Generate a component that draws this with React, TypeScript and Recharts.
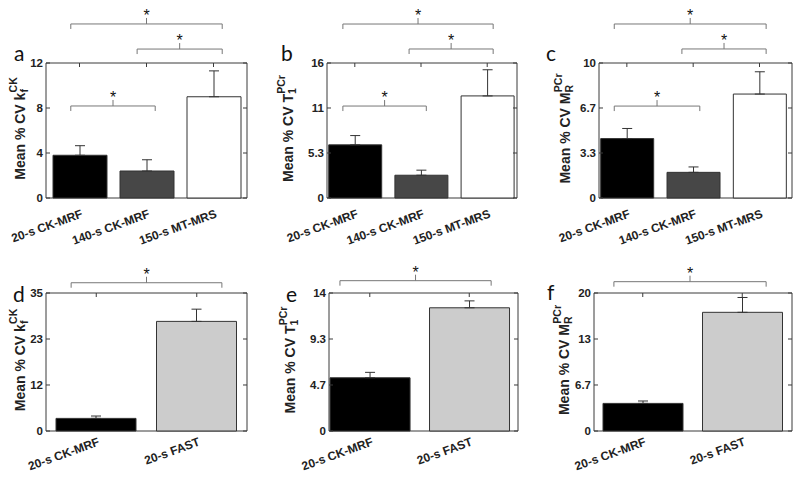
import React from "react";
import { BarChart, Bar, XAxis, YAxis, ErrorBar, Cell, ReferenceLine, ReferenceArea } from "recharts";

// categories
const methodLabels = ["20-s CK-MRF", "140-s CK-MRF", "150-s MT-MRS"];
const fastLabels = ["20-s CK-MRF", "20-s FAST"];

// mean % CV per method (top row)
const kfMeans = [3.8, 2.4, 9.0];
const kfErrs = [0.85, 1.0, 2.3];
const t1Means = [6.3, 2.7, 12.1];
const t1Errs = [1.1, 0.6, 3.1];
const mrMeans = [4.4, 1.9, 7.7];
const mrErrs = [0.75, 0.4, 1.65];

// CK-MRF vs FAST (bottom row)
const kfFastMeans = [3.2, 27.8];
const kfFastErrs = [0.6, 3.1];
const t1FastMeans = [5.4, 12.5];
const t1FastErrs = [0.55, 0.7];
const mrFastMeans = [4.0, 17.2];
const mrFastErrs = [0.35, 2.15];

// y ticks + labels
const kfTicks = [0, 4, 8, 12];
const kfTickLabels = ["0", "4", "8", "12"];
const t1Ticks = [0, 5.333, 10.667, 16];
const t1TickLabels = ["0", "5.3", "11", "16"];
const mrTicks = [0, 3.333, 6.667, 10];
const mrTickLabels = ["0", "3.3", "6.7", "10"];
const kfFastTicks = [0, 11.667, 23.333, 35];
const kfFastTickLabels = ["0", "12", "23", "35"];
const t1FastTicks = [0, 4.667, 9.333, 14];
const t1FastTickLabels = ["0", "4.7", "9.3", "14"];
const mrFastTicks = [0, 6.667, 13.333, 20];
const mrFastTickLabels = ["0", "6.7", "13", "20"];

// significance brackets (x from/to, height in data units)
const kfSig = [
  { from: 0.87, to: 3.13, at: 15.47 },
  { from: 1.86, to: 3.13, at: 13.24 },
  { from: 0.87, to: 2.13, at: 8.18 },
];
const t1Sig = [
  { from: 0.82, to: 3.09, at: 20.62 },
  { from: 1.82, to: 3.09, at: 17.66 },
  { from: 0.82, to: 2.08, at: 10.9 },
];
const mrSig = [
  { from: 0.81, to: 3.1, at: 12.89 },
  { from: 1.83, to: 3.1, at: 11.04 },
  { from: 0.81, to: 2.1, at: 6.81 },
];
const kfFastSig = [{ from: 0.75, to: 2.25, at: 37.6 }];
const t1FastSig = [{ from: 0.7, to: 2.22, at: 15.25 }];
const mrFastSig = [{ from: 0.71, to: 2.24, at: 21.64 }];

const W = 800;
const H = 483;
const AXW = 30; // y axis width
const AXH = 30; // x axis height
const FONT = "Liberation Sans, Arial, sans-serif";
const AXIS = "#3a3a3a";
const topFills = ["#000000", "#474747", "#ffffff"];
const bottomFills = ["#000000", "#cccccc"];

const panels = [
  { letter: "a", lx: 14, ly: 61, labels: methodLabels, means: kfMeans, errs: kfErrs, fills: topFills, ticks: kfTicks, tickLabels: kfTickLabels, sig: kfSig, box: { left: 46, right: 247, top: 63, bottom: 198 }, xDomain: [0.5, 3.5], ylx: 25, base: "k", sub: "f", subW: 3.3, sup: "CK", drop: 19 },
  { letter: "b", lx: 281, ly: 61, labels: methodLabels, means: t1Means, errs: t1Errs, fills: topFills, ticks: t1Ticks, tickLabels: t1TickLabels, sig: t1Sig, box: { left: 327, right: 517, top: 63, bottom: 198 }, xDomain: [0.58, 3.45], ylx: 293, base: "T", sub: "1", subW: 5.6, sup: "PCr", drop: 19 },
  { letter: "c", lx: 546, ly: 61, labels: methodLabels, means: mrMeans, errs: mrErrs, fills: topFills, ticks: mrTicks, tickLabels: mrTickLabels, sig: mrSig, box: { left: 599, right: 792, top: 63, bottom: 198 }, xDomain: [0.58, 3.49], ylx: 570, base: "M", sub: "R", subW: 7.2, sup: "PCr", drop: 19 },
  { letter: "d", lx: 13, ly: 302, labels: fastLabels, means: kfFastMeans, errs: kfFastErrs, fills: bottomFills, ticks: kfFastTicks, tickLabels: kfFastTickLabels, sig: kfFastSig, box: { left: 46, right: 247, top: 293, bottom: 431 }, xDomain: [0.5, 2.5], ylx: 25, base: "k", sub: "f", subW: 3.3, sup: "CK", drop: 14 },
  { letter: "e", lx: 286, ly: 302, labels: fastLabels, means: t1FastMeans, errs: t1FastErrs, fills: bottomFills, ticks: t1FastTicks, tickLabels: t1FastTickLabels, sig: t1FastSig, box: { left: 329, right: 518, top: 293, bottom: 431 }, xDomain: [0.59, 2.49], ylx: 295, base: "T", sub: "1", subW: 5.6, sup: "PCr", drop: 14 },
  { letter: "f", lx: 547, ly: 300, labels: fastLabels, means: mrFastMeans, errs: mrFastErrs, fills: bottomFills, ticks: mrFastTicks, tickLabels: mrFastTickLabels, sig: mrFastSig, box: { left: 594, right: 792, top: 293, bottom: 431 }, xDomain: [0.51, 2.5], ylx: 569, base: "M", sub: "R", subW: 7.2, sup: "PCr", drop: 14 },
];

const bracketShape = (p: any) => {
  const x1 = Math.min(p.x1, p.x2);
  const x2 = Math.max(p.x1, p.x2);
  const y = p.y1;
  const xm = (x1 + x2) / 2;
  return (
    <g>
      <path d={`M${x1},${y + 5}V${y}H${x2}V${y + 5}M${xm},${y}V${y - 6}`} fill="none" stroke="#777" strokeWidth={1} />
      <text x={xm} y={y - 3} textAnchor="middle" fontSize={16} fontFamily={FONT} fill="#111">*</text>
    </g>
  );
};

function Panel({ spec }: { spec: any }) {
  const { box, xDomain, ticks, tickLabels, labels } = spec;
  const data = spec.means.map((v: number, i: number) => ({ x: i + 1, value: v, err: [0, spec.errs[i]] }));
  const plotW = box.right - box.left;
  const barSize = Math.round((0.8 * plotW) / (xDomain[1] - xDomain[0]));
  const yMax = ticks[ticks.length - 1];

  const yTick = (p: any) => {
    const idx = ticks.indexOf(p.payload.value);
    return (
      <g>
        <line x1={box.left} x2={box.left + 4} y1={p.y} y2={p.y} stroke={AXIS} />
        <line x1={box.right} x2={box.right - 4} y1={p.y} y2={p.y} stroke={AXIS} />
        <text x={box.left - 3} y={p.y} dy={4} textAnchor="end" fontSize={11.5} fontWeight="bold" fontFamily={FONT} fill="#222">
          {tickLabels[idx]}
        </text>
      </g>
    );
  };

  const xTick = (p: any) => (
    <g>
      <line x1={p.x} x2={p.x} y1={box.top} y2={box.top + 4} stroke={AXIS} />
      <g transform={`translate(${p.x + 4},${box.bottom + spec.drop}) rotate(-20)`}>
        <text x={0} y={0} textAnchor="end" fontSize={12} fontWeight="bold" fontFamily={FONT} fill="#222">
          {labels[Math.round(p.payload.value) - 1]}
        </text>
      </g>
    </g>
  );

  const yLabel = () => (
    <g>
      <text x={spec.lx} y={spec.ly} fontFamily="Lato, sans-serif" fontSize={21} fill="#111">
        {spec.letter}
      </text>
      <g transform={`translate(${spec.ylx},${(box.top + box.bottom) / 2 - 2}) rotate(-90)`}>
        <text x={0} y={0} textAnchor="middle" fontFamily={FONT} fontWeight="bold" fontSize={14} fill="#222">
          Mean % CV {spec.base}
          <tspan dy={3} fontSize={10.5}>{spec.sub}</tspan>
          <tspan dx={-spec.subW} dy={-11} fontSize={10.5}>{spec.sup}</tspan>
        </text>
      </g>
    </g>
  );

  return (
    <BarChart
      width={W}
      height={H}
      data={data}
      margin={{ top: box.top, left: box.left - AXW, right: W - box.right, bottom: H - box.bottom - AXH }}
    >
      <XAxis
        dataKey="x"
        type="number"
        domain={xDomain}
        ticks={[1, 2, 3].slice(0, labels.length)}
        height={AXH}
        axisLine={false}
        tickLine={false}
        tick={xTick}
        interval={0}
      />
      <YAxis
        type="number"
        domain={[0, yMax]}
        ticks={ticks}
        width={AXW}
        axisLine={false}
        tickLine={false}
        tick={yTick}
        interval={0}
        label={yLabel}
      />
      <Bar dataKey="value" barSize={barSize} stroke="#333" strokeWidth={1} isAnimationActive={false}>
        {data.map((d: any, i: number) => (
          <Cell key={d.x} fill={spec.fills[i]} />
        ))}
        <ErrorBar dataKey="err" direction="y" width={5} stroke="#333" strokeWidth={1} isAnimationActive={false} />
      </Bar>
      <ReferenceArea x1={xDomain[0]} x2={xDomain[1]} y1={0} y2={yMax} fill="none" stroke={AXIS} strokeWidth={1} ifOverflow="visible" />
      {spec.sig.map((s: any, i: number) => (
        <ReferenceLine
          key={i}
          segment={[{ x: s.from, y: s.at }, { x: s.to, y: s.at }]}
          ifOverflow="visible"
          shape={bracketShape}
        />
      ))}
    </BarChart>
  );
}

export default function App() {
  return (
    <div style={{ position: "absolute", left: 0, top: 0, width: W, height: H, background: "#fff" }}>
      {panels.map((p) => (
        <div key={p.letter} style={{ position: "absolute", left: 0, top: 0 }}>
          <Panel spec={p} />
        </div>
      ))}
    </div>
  );
}
